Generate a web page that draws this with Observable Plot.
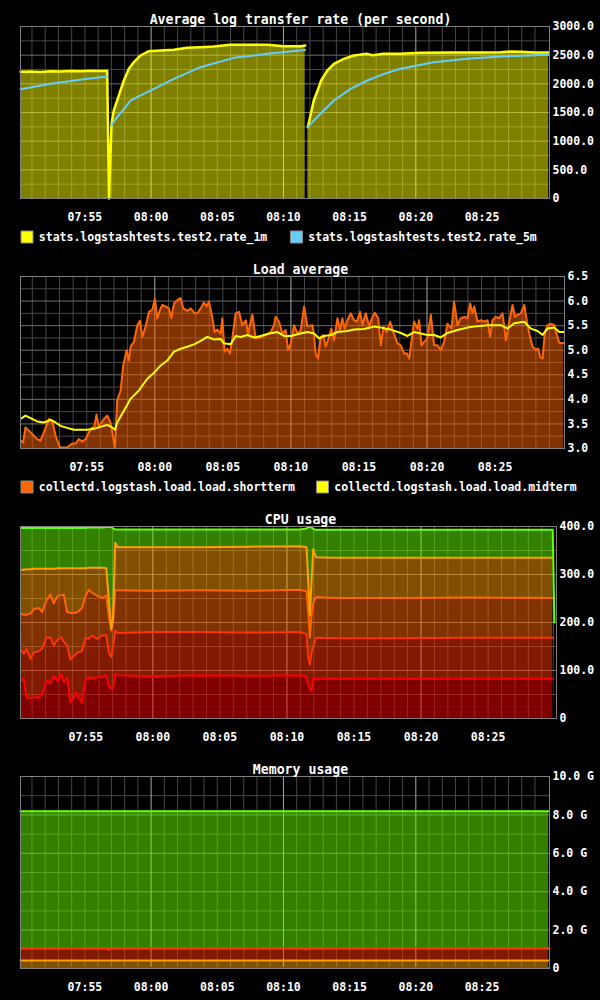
<!DOCTYPE html>
<html>
<head>
<meta charset="utf-8">
<script src="https://cdn.jsdelivr.net/npm/d3@7"></script>
<script src="https://cdn.jsdelivr.net/npm/@observablehq/plot@0.6"></script>
<style>
  html, body { margin: 0; padding: 0; background: #000; }
  #charts svg { display: block; }
</style>
</head>
<body>
<div id="charts"></div>
<script>
// ---------- time axis (minutes after 07:50) ----------
const timeTickLabels = ["07:55", "08:00", "08:05", "08:10", "08:15", "08:20", "08:25"];
const xStartMinute = 0.133, xEndMinute = 40.1;

// ---------- Panel 1: Average log transfer rate ----------
const rateTitle = "Average log transfer rate (per second)";
const rateLegend = ["stats.logstashtests.test2.rate_1m", "stats.logstashtests.test2.rate_5m"];
const rateTicks = [0, 500, 1000, 1500, 2000, 2500, 3000];
const rateMinorTicks = [250, 750, 1250, 1750, 2250, 2750];
const rate1m = [[0.13,2210],[0.89,2215],[1.64,2205],[2.40,2220],[3.16,2215],[3.91,2225],[4.67,2218],[5.42,2230],[6.18,2225],[6.68,2230],[6.82,0],[7.01,1300],[7.18,1535],[7.56,1796],[7.94,2058],[8.32,2262],[8.69,2378],[9.20,2494],[9.83,2569],[10.71,2581],[11.72,2593],[12.73,2628],[13.73,2639],[14.74,2651],[16.00,2680],[17.51,2680],[18.77,2680],[20.03,2657],[21.29,2657],[21.64,2668],[21.74,null],[21.84,1244],[22.29,1709],[22.67,1941],[22.85,2058],[23.31,2232],[23.81,2349],[24.56,2436],[25.32,2494],[26.33,2523],[26.73,2500],[27.56,2523],[28.85,2523],[30.36,2540],[32.62,2546],[34.89,2546],[36.40,2550],[37.16,2565],[37.91,2560],[39.05,2546],[40.03,2546]];
const rate5m = [[0.13,1906],[2.40,2000],[4.92,2081],[6.68,2128],[6.82,null],[6.97,1273],[7.44,1418],[7.94,1560],[8.45,1709],[9.20,1800],[9.96,1883],[11.72,2087],[13.73,2290],[16.23,2453],[18.80,2523],[21.29,2581],[21.64,2590],[21.74,null],[21.84,1250],[22.80,1477],[23.81,1709],[25.07,1913],[26.33,2058],[27.56,2170],[28.85,2262],[31.34,2378],[33.89,2436],[36.40,2477],[40.03,2506]];

// ---------- Panel 2: Load average ----------
const loadTitle = "Load average";
const loadLegend = ["collectd.logstash.load.load.shortterm", "collectd.logstash.load.load.midterm"];
const loadTicks = [3.0, 3.5, 4.0, 4.5, 5.0, 5.5, 6.0, 6.5];
const loadMinorTicks = [3.25, 3.75, 4.25, 4.75, 5.25, 5.75, 6.25];
const loadShortterm = [[0.18,3.16],[0.33,3.12],[0.50,3.43],[0.87,3.33],[1.36,3.19],[1.60,3.16],[1.85,3.33],[2.22,3.60],[2.46,3.57],[2.71,3.26],[3.03,3.02],[3.56,3.02],[3.93,3.10],[4.18,3.10],[4.42,3.19],[4.67,3.14],[4.91,3.19],[5.16,3.33],[5.40,3.43],[5.52,3.40],[5.72,3.69],[5.89,3.43],[6.01,3.50],[6.26,3.60],[6.51,3.67],[6.75,3.53],[7.07,3.02],[7.24,3.98],[7.49,4.18],[7.68,4.69],[7.93,5.00],[8.10,4.79],[8.22,5.07],[8.47,5.17],[8.71,5.51],[8.91,5.60],[9.08,5.27],[9.32,5.48],[9.57,5.78],[9.81,5.82],[10.01,6.04],[10.18,5.65],[10.38,5.82],[10.55,5.92],[10.79,5.89],[11.04,5.85],[11.21,5.65],[11.41,5.95],[11.65,6.02],[11.90,6.06],[12.09,5.85],[12.39,5.80],[12.63,5.85],[12.93,5.75],[13.12,5.75],[13.37,5.85],[13.61,5.97],[13.81,5.89],[13.98,5.99],[14.23,5.65],[14.40,5.37],[14.59,5.42],[14.84,5.34],[14.96,5.65],[15.13,4.97],[15.33,5.03],[15.52,4.93],[15.70,5.24],[15.94,5.75],[16.19,5.78],[16.43,5.51],[16.68,5.61],[16.85,5.34],[17.17,5.72],[17.41,5.24],[17.78,5.26],[18.15,5.31],[18.52,5.37],[18.76,5.51],[18.88,5.68],[19.13,5.58],[19.37,5.34],[19.62,5.41],[19.79,5.00],[19.99,5.14],[20.23,5.51],[20.48,5.34],[20.72,5.40],[20.97,5.89],[21.21,5.49],[21.58,5.51],[21.70,5.31],[21.82,4.93],[21.99,4.83],[22.19,5.27],[22.39,5.31],[22.56,5.07],[22.80,5.27],[22.97,5.44],[23.17,5.20],[23.42,5.65],[23.61,5.41],[23.78,5.65],[23.95,5.44],[24.15,5.61],[24.40,5.75],[24.64,5.61],[24.84,5.58],[25.08,5.78],[25.25,5.51],[25.50,5.75],[25.74,5.48],[25.99,5.68],[26.16,5.76],[26.41,5.65],[26.60,5.10],[26.80,5.48],[27.04,5.37],[27.29,5.58],[27.53,5.37],[27.83,5.14],[28.07,5.10],[28.32,4.93],[28.51,4.94],[28.69,4.83],[28.93,5.34],[29.05,5.58],[29.30,5.44],[29.42,5.61],[29.59,5.10],[29.79,5.17],[30.03,5.24],[30.28,5.72],[30.52,5.10],[30.77,5.10],[31.01,5.00],[31.26,5.17],[31.50,5.54],[31.80,5.44],[31.99,5.99],[32.24,5.51],[32.48,5.65],[32.78,5.68],[32.97,5.65],[33.17,5.95],[33.34,5.75],[33.47,5.89],[33.71,5.58],[33.96,5.61],[34.20,5.58],[34.45,5.61],[34.64,5.27],[34.81,5.61],[35.06,5.68],[35.30,5.65],[35.55,5.75],[35.79,5.20],[36.04,5.58],[36.28,5.92],[36.46,5.68],[36.65,5.72],[36.90,5.75],[37.14,5.92],[37.34,5.58],[37.51,5.34],[37.75,5.07],[38.00,5.01],[38.17,5.03],[38.32,4.86],[38.49,4.83],[38.66,5.37],[38.86,5.51],[39.10,5.54],[39.35,5.51],[39.54,5.31],[39.72,5.15],[40.03,5.14]];
const loadMidterm = [[0.18,3.61],[0.50,3.67],[0.87,3.62],[1.36,3.55],[1.85,3.53],[2.34,3.58],[2.71,3.53],[3.07,3.46],[3.56,3.42],[4.05,3.38],[4.54,3.38],[5.03,3.38],[5.52,3.40],[6.01,3.44],[6.51,3.48],[6.87,3.43],[7.07,3.38],[7.24,3.53],[7.73,3.77],[8.22,4.01],[8.83,4.18],[9.45,4.42],[9.94,4.54],[10.43,4.69],[10.92,4.79],[11.41,4.97],[11.90,5.03],[12.39,5.07],[12.88,5.12],[13.37,5.19],[13.86,5.27],[14.35,5.22],[14.84,5.23],[15.08,5.14],[15.57,5.12],[15.94,5.29],[16.31,5.27],[16.80,5.31],[17.29,5.26],[17.78,5.29],[18.27,5.33],[19.00,5.37],[19.50,5.29],[19.99,5.29],[20.72,5.34],[21.21,5.37],[21.70,5.34],[22.07,5.24],[22.44,5.29],[22.93,5.31],[23.42,5.37],[24.15,5.39],[24.64,5.42],[25.38,5.43],[26.11,5.48],[26.60,5.46],[27.34,5.42],[28.07,5.35],[28.56,5.29],[29.05,5.37],[29.54,5.34],[30.03,5.31],[30.52,5.31],[31.01,5.26],[31.50,5.35],[32.24,5.41],[32.97,5.46],[33.71,5.49],[34.45,5.51],[35.43,5.51],[35.92,5.44],[36.41,5.55],[37.14,5.58],[37.63,5.44],[38.12,5.39],[38.49,5.31],[38.86,5.44],[39.35,5.46],[39.72,5.37],[40.03,5.37]];

// ---------- Panel 3: CPU usage (stacked) ----------
const cpuTitle = "CPU usage";
const cpuTicks = [0, 100, 200, 300, 400];
const cpuMinorTicks = [50, 150, 250, 350];
const cpuMinutes = [0.21,0.38,0.58,0.88,1.13,1.50,1.75,2.07,2.37,2.61,2.91,3.18,3.36,3.61,3.85,4.05,4.23,4.40,4.72,4.97,5.22,5.47,5.84,6.21,6.53,6.71,6.90,7.03,7.20,7.38,9.81,13.53,17.25,20.97,21.46,21.59,21.71,21.83,21.96,22.16,23.45,28.41,33.37,39.82,39.94];
const cpuSeries1 = [79,83,44,42,44,44,51,79,74,88,79,93,76,86,34,41,55,48,33,79,86,84,86,86,90,69,62,63,93,90,88,90,89,90,88,69,62,58,83,83,83,83,83,83,null];
const cpuSeries2 = [63,52,101,82,94,96,94,90,95,64,86,76,84,66,89,87,78,90,107,89,80,89,80,87,84,69,66,87,90,88,92,90,90,90,88,59,50,80,67,85,84,84,85,85,null];
const cpuSeries3 = [76,81,71,95,90,90,77,77,89,88,90,88,98,70,97,92,87,84,90,87,102,89,90,78,82,77,55,54,84,89,86,87,87,88,89,94,57,77,90,85,84,84,84,83,null];
const cpuSeries4 = [92,94,95,92,84,82,90,66,54,72,58,56,55,91,93,93,93,91,83,58,46,52,58,63,57,35,4,4,99,90,91,90,92,91,92,62,46,69,113,83,84,84,83,84,null];
const cpuSeries5 = [87,87,86,86,85,85,85,85,85,85,84,84,84,84,84,84,84,84,84,84,84,84,84,84,86,149,212,188,28,37,37,37,36,35,39,115,184,114,42,57,58,58,58,58,200];
const cpuColors = ["#ff0000", "#ff3300", "#ff6600", "#ffa000", "#66ff00"];

// ---------- Panel 4: Memory usage (stacked, G) ----------
const memTitle = "Memory usage";
const memTicks = [0, 2, 4, 6, 8, 10];
const memMinorTicks = [1, 3, 5, 7, 9];
const memMinutes = [0.13, 6.70, 6.80, 6.92, 21.55, 21.67, 21.80, 40.03];
const memSeries1 = [0.03, 0.03, 0.03, 0.03, 0.03, 0.03, 0.03, 0.03];
const memSeries2 = [0.39, 0.39, 0.39, 0.39, 0.39, 0.39, 0.39, 0.39];
const memSeries3 = [0.64, 0.64, 0.55, 0.64, 0.64, 0.55, 0.64, 0.64];
const memSeries4 = [7.13, 7.13, 7.22, 7.13, 7.13, 7.22, 7.13, 7.13];
const memColors = ["#2a55e0", "#ffa000", "#ff3300", "#66ff00"];

// ---------- helpers ----------
const T0 = Date.UTC(2013, 0, 1, 7, 50, 0);
const toDate = m => new Date(T0 + m * 60000);
const xDomain = [toDate(xStartMinute), toDate(xEndMinute)];
const timeTicks = timeTickLabels.map(s => {
  const [h, mm] = s.split(":").map(Number);
  return new Date(Date.UTC(2013, 0, 1, h, mm));
});
const minuteGrid = d3.range(1, 41).filter(m => m % 10 !== 0).map(toDate);
const tenMinuteGrid = [10, 20, 30].map(toDate);
const fmtTime = d3.utcFormat("%H:%M");

function stackRows(minutes, seriesList) {
  let cum = minutes.map(() => 0);
  return seriesList.map(vals => {
    const rows = minutes.map((m, i) => {
      const v = vals[i];
      return {t: toDate(m), y1: v == null ? null : cum[i], y2: v == null ? null : cum[i] + v};
    });
    cum = cum.map((c, i) => c + (vals[i] == null ? 0 : vals[i]));
    return rows;
  });
}

const STYLE = {
  background: "#000",
  color: "#fff",
  fontFamily: "'DejaVu Sans Mono', monospace",
  fontSize: "11.5px",
  fontWeight: "bold"
};

function makePanel({title, mr, mb, yDomain, yMajor, yMinor, yFormat, layers, legend}) {
  const W = 600, H = 250, mt = 26, ml = 20;
  const frameCenter = (ml + (W - mr)) / 2;
  const marks = [
    Plot.ruleX(minuteGrid, {x: d => d, stroke: "#474747", strokeWidth: 1}),
    Plot.ruleY(yMinor, {y: d => d, stroke: "#474747", strokeWidth: 1}),
    Plot.ruleY(yMajor, {y: d => d, stroke: "#6e6e6e", strokeWidth: 1}),
    Plot.ruleX(tenMinuteGrid, {x: d => d, stroke: "#a8a8a8", strokeWidth: 1}),
    ...layers,
    Plot.frame({stroke: "#808080"}),
    Plot.axisX({ticks: timeTicks, tickFormat: fmtTime, tickSize: 0, tickPadding: 14, label: null, fill: "#fff"}),
    Plot.axisY({anchor: "right", ticks: yMajor, tickFormat: yFormat, tickSize: 0, tickPadding: 3, label: null, fill: "#fff"}),
    Plot.text([title], {frameAnchor: "top", dx: 300 - frameCenter, dy: -2.5, lineAnchor: "bottom", fontSize: 13.2, fill: "#fff"})
  ];
  if (legend) {
    legend.forEach(item => {
      marks.push(Plot.dot([item], {frameAnchor: "bottom-left", dx: item.dx + 6.5, dy: 38.5, symbol: "square", r: 6.77, fill: item.color, stroke: "#8a8a8a", strokeWidth: 1}));
      marks.push(Plot.text([item], {frameAnchor: "bottom-left", dx: item.dx + 18.3, dy: 39, text: d => d.label, textAnchor: "start", lineAnchor: "middle", fill: "#fff"}));
    });
  }
  return Plot.plot({
    width: W, height: H,
    marginTop: mt, marginLeft: ml, marginRight: mr, marginBottom: mb,
    style: STYLE,
    x: {type: "utc", domain: xDomain},
    y: {type: "linear", domain: yDomain},
    marks
  });
}

const tx = d => toDate(d[0]);
const ty = d => d[1];
const fmt1 = d => d === 0 ? "0" : d.toFixed(1);

// Panel 1
const p1 = makePanel({
  title: rateTitle, mr: 51, mb: 52,
  yDomain: [rateTicks[0], rateTicks[rateTicks.length - 1]],
  yMajor: rateTicks, yMinor: rateMinorTicks, yFormat: fmt1,
  layers: [
    Plot.areaY(rate1m, {x: tx, y1: 0, y2: ty, fill: "#ffff00", fillOpacity: 0.5, curve: "linear"}),
    Plot.lineY(rate1m, {x: tx, y: ty, stroke: "#ffff00", strokeWidth: 2.5}),
    Plot.lineY(rate5m, {x: tx, y: ty, stroke: "#66ccff", strokeWidth: 2})
  ],
  legend: [
    {label: rateLegend[0], color: "#ffff00", dx: 0},
    {label: rateLegend[1], color: "#66ccff", dx: 269.5}
  ]
});

// Panel 2
const p2 = makePanel({
  title: loadTitle, mr: 36, mb: 52,
  yDomain: [loadTicks[0], loadTicks[loadTicks.length - 1]],
  yMajor: loadTicks, yMinor: loadMinorTicks, yFormat: d => d.toFixed(1),
  layers: [
    Plot.areaY(loadShortterm, {x: tx, y1: loadTicks[0], y2: ty, fill: "#ff6600", fillOpacity: 0.5}),
    Plot.lineY(loadShortterm, {x: tx, y: ty, stroke: "#ff6600", strokeWidth: 2}),
    Plot.lineY(loadMidterm, {x: tx, y: ty, stroke: "#ffff00", strokeWidth: 2})
  ],
  legend: [
    {label: loadLegend[0], color: "#ff6600", dx: 0},
    {label: loadLegend[1], color: "#ffff00", dx: 295.5}
  ]
});

// Panel 3
const cpuStack = stackRows(cpuMinutes, [cpuSeries1, cpuSeries2, cpuSeries3, cpuSeries4, cpuSeries5]);
const p3 = makePanel({
  title: cpuTitle, mr: 44, mb: 32,
  yDomain: [cpuTicks[0], cpuTicks[cpuTicks.length - 1]],
  yMajor: cpuTicks, yMinor: cpuMinorTicks, yFormat: fmt1,
  layers: [
    ...cpuStack.map((rows, k) => Plot.areaY(rows, {x: "t", y1: "y1", y2: "y2", fill: cpuColors[k], fillOpacity: 0.5})),
    ...cpuStack.map((rows, k) => Plot.lineY(rows, {x: "t", y: "y2", stroke: cpuColors[k], strokeWidth: 2}))
  ]
});

// Panel 4
const memStack = stackRows(memMinutes, [memSeries1, memSeries2, memSeries3, memSeries4]);
const p4 = makePanel({
  title: memTitle, mr: 51, mb: 32,
  yDomain: [memTicks[0], memTicks[memTicks.length - 1]],
  yMajor: memTicks, yMinor: memMinorTicks, yFormat: d => d === 0 ? "0" : d.toFixed(1) + " G",
  layers: [
    ...memStack.map((rows, k) => Plot.areaY(rows, {x: "t", y1: "y1", y2: "y2", fill: memColors[k], fillOpacity: 0.5})),
    ...memStack.map((rows, k) => Plot.lineY(rows, {x: "t", y: "y2", stroke: memColors[k], strokeWidth: 2}))
  ]
});

const host = document.getElementById("charts");
[p1, p2, p3, p4].forEach(p => host.appendChild(p));
</script>
</body>
</html>
